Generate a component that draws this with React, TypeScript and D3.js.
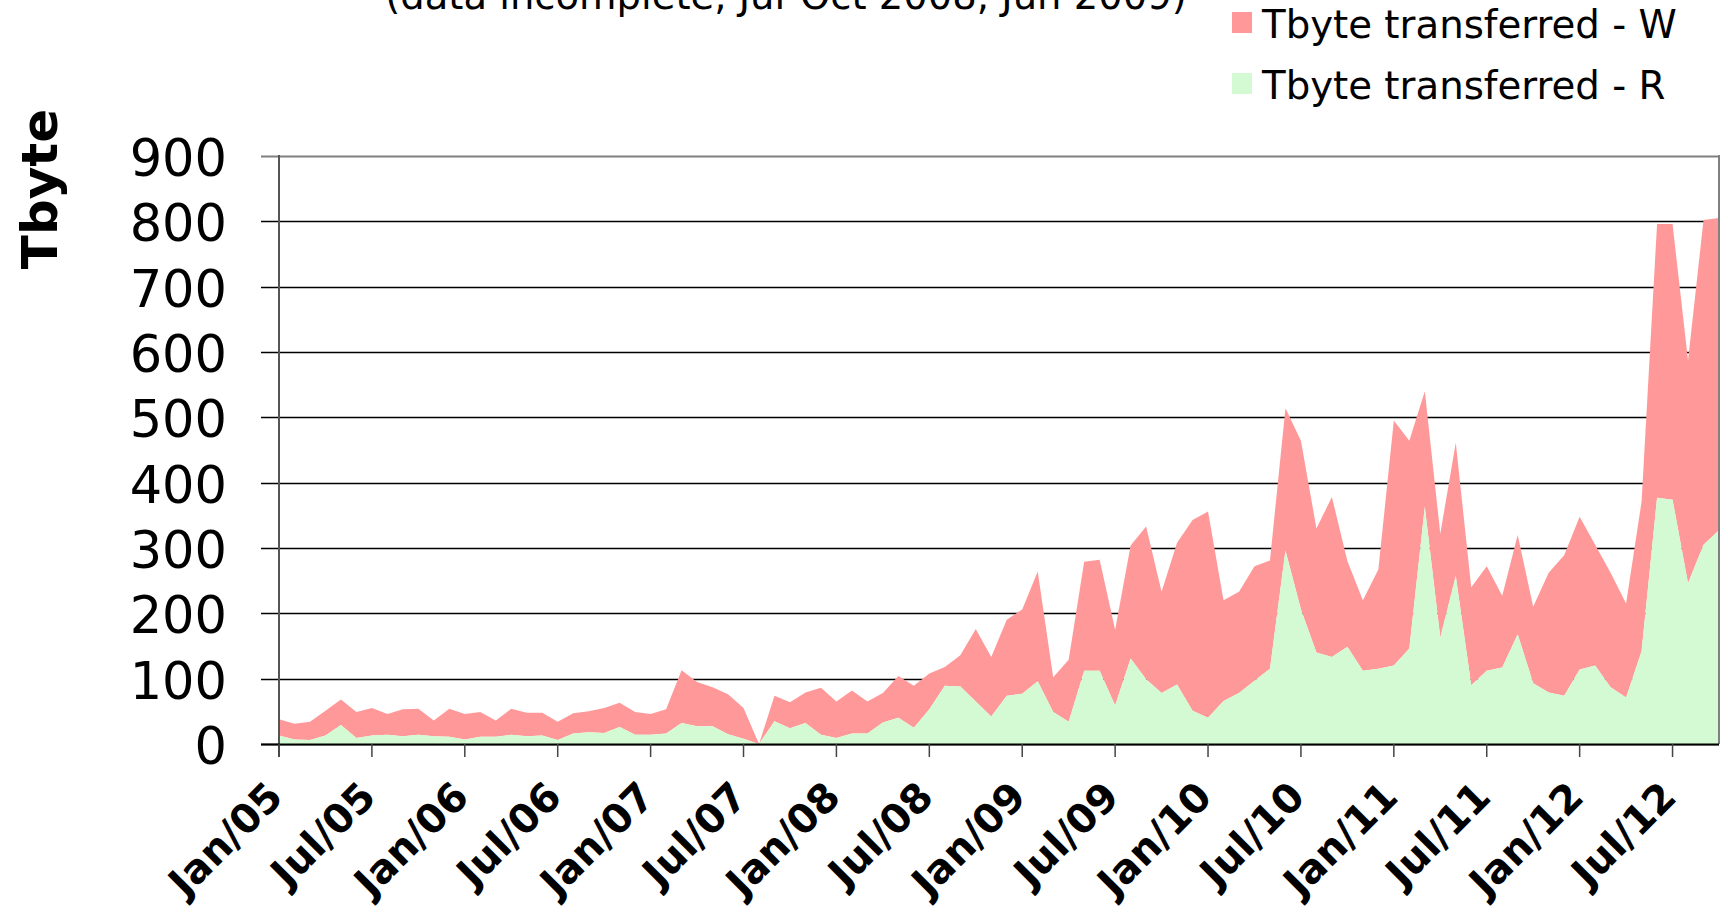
import React, { useEffect } from "react";
import * as d3 from "d3";

// Monthly data Jan/05 .. Oct/12 (Tbyte)
const readR: number[] = [
  13, 7, 6, 13, 29, 9, 13, 14, 12, 14, 12, 11,
  7, 11, 11, 14, 12, 13, 6, 16, 18, 17, 26, 14,
  14, 16, 32, 27, 27, 15, 8, 0, 35, 24, 32, 14,
  9, 16, 16, 33, 40, 25, 53, 89, 88, 65, 42, 74,
  77, 96, 49, 34, 112, 112, 59, 131, 99, 78, 91, 51,
  40, 66, 78, 97, 115, 296, 206, 140, 133, 149, 112, 115,
  120, 146, 363, 163, 257, 90, 112, 117, 168, 93, 79, 74,
  114, 120, 87, 71, 142, 377, 374, 246, 305, 327,
];
const writeW: number[] = [
  25, 24, 28, 38, 39, 40, 42, 32, 41, 40, 24, 43,
  39, 38, 25, 40, 36, 35, 28, 31, 32, 38, 37, 35,
  32, 37, 81, 68, 60, 61, 47, 0, 39, 40, 47, 72,
  56, 66, 49, 45, 64, 64, 55, 29, 48, 111, 91, 116,
  129, 168, 53, 95, 167, 170, 116, 173, 234, 155, 217, 292,
  316, 154, 155, 175, 166, 218, 258, 190, 245, 131, 108, 152,
  375, 318, 177, 159, 204, 150, 160, 110, 152, 117, 183, 215,
  234, 185, 175, 144, 229, 419, 422, 341, 497, 478,
];
const tickLabels: string[] = [
  "Jan/05", "Jul/05", "Jan/06", "Jul/06", "Jan/07", "Jul/07", "Jan/08", "Jul/08",
  "Jan/09", "Jul/09", "Jan/10", "Jul/10", "Jan/11", "Jul/11", "Jan/12", "Jul/12",
];
const yTicks: number[] = [0, 100, 200, 300, 400, 500, 600, 700, 800, 900];
const seriesNames: string[] = ["Tbyte transferred - W", "Tbyte transferred - R"];
const colors: string[] = ["#FF9999", "#D3FAD3"];
const titleText = "(data incomplete, Jul-Oct 2008, Jun 2009)";
const yTitle = "Tbyte";

const FONT = "'DejaVu Sans', Verdana, sans-serif";

export default function App() {
  useEffect(() => {
    document.body.style.margin = "0";
    document.body.style.overflow = "hidden";
  }, []);

  const x0 = 279, x1 = 1719, yBot = 744, yTop = 156;
  const n = readR.length;
  const x = d3.scaleLinear().domain([0, n - 1]).range([x0, x1]);
  const y = d3.scaleLinear().domain([0, 900]).range([yBot, yTop]);

  const idx = d3.range(n);
  const areaR = d3.area<number>()
    .x((i) => x(i))
    .y0(() => y(0))
    .y1((i) => y(readR[i]));
  const areaW = d3.area<number>()
    .x((i) => x(i))
    .y0((i) => y(readR[i]))
    .y1((i) => y(readR[i] + writeW[i]));

  return (
    <svg width={1728} height={914} style={{ position: "absolute", left: 0, top: 0, background: "#fff" }}
      fontFamily={FONT}>
      <rect x={0} y={0} width={1728} height={914} fill="#fff" />
      {/* title (cut off at top) */}
      <text x={786} y={9} textAnchor="middle" fontSize={38.5} fill="#000">{titleText}</text>

      {/* gridlines */}
      {yTicks.map((t) => (
        <line key={"g" + t} x1={261} x2={x1} y1={Math.round(y(t)) + 0.5} y2={Math.round(y(t)) + 0.5}
          stroke={t === 900 ? "#808080" : "#000"} strokeWidth={t === 900 ? 2 : 1.3} />
      ))}

      {/* areas */}
      <path d={areaW(idx) || ""} fill={colors[0]} />
      <path d={areaR(idx) || ""} fill={colors[1]} />

      {/* plot border right */}
      <line x1={x1} x2={x1} y1={yTop - 1} y2={yBot} stroke="#808080" strokeWidth={2} />

      {/* axes */}
      <line x1={x0} x2={x0} y1={yTop - 1} y2={757} stroke="#555" strokeWidth={2} />
      <line x1={261} x2={x1} y1={yBot + 0.5} y2={yBot + 0.5} stroke="#000" strokeWidth={2} />
      {tickLabels.map((lab, k) => {
        const xi = x(k * 6);
        return (
          <g key={lab}>
            <line x1={xi} x2={xi} y1={yBot} y2={757} stroke="#444" strokeWidth={1.5} />
            <text transform={`translate(${xi + 6},${799}) rotate(-45)`} textAnchor="end"
              fontSize={40} fontWeight="bold" fill="#000">{lab}</text>
          </g>
        );
      })}

      {/* y tick labels */}
      {yTicks.map((t) => (
        <text key={"l" + t} x={227} y={y(t) + 20} textAnchor="end" fontSize={51} fill="#000">{t}</text>
      ))}

      {/* y title */}
      <text transform={`translate(57,189) rotate(-90)`} textAnchor="middle" fontSize={50}
        fontWeight="bold" fill="#000">{yTitle}</text>

      {/* legend */}
      {seriesNames.map((s, k) => (
        <g key={s}>
          <rect x={1232} y={k === 0 ? 12 : 73} width={20} height={21} fill={colors[k]} />
          <text x={1262} y={k === 0 ? 38 : 99} fontSize={38.7} fill="#000">{s}</text>
        </g>
      ))}
    </svg>
  );
}
